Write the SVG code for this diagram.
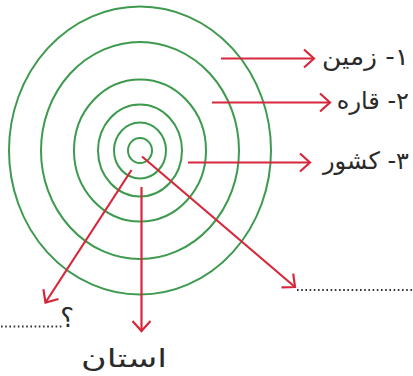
<svg xmlns="http://www.w3.org/2000/svg" width="413" height="376" viewBox="0 0 413 376">
<style>
.ring{fill:none;stroke:#3d9a4e;stroke-width:2}
.arr{fill:none;stroke:#d7283b;stroke-width:2.2;marker-end:url(#ah)}
.lbl{font-family:"DejaVu Sans",sans-serif;font-size:24px;fill:#2a2a2a;direction:rtl}
.dots{fill:none;stroke:#333;stroke-width:1.8;stroke-dasharray:1.6 2.6}
</style>
<defs>
<marker id="ah" markerUnits="userSpaceOnUse" markerWidth="24" markerHeight="24" viewBox="-12 -12 24 24" refX="0" refY="0" orient="auto">
<path d="M-10,-9 L0,0 L-10,9" fill="none" stroke="#d7283b" stroke-width="2.2"/>
</marker>
</defs>
<rect width="413" height="376" fill="#fff"/>
<g id="rings">
<ellipse class="ring" cx="140" cy="150.5" rx="12" ry="12.5"/>
<ellipse class="ring" cx="140" cy="150.5" rx="26" ry="28"/>
<ellipse class="ring" cx="140" cy="150.5" rx="42" ry="46"/>
<ellipse class="ring" cx="140" cy="150.5" rx="66" ry="71"/>
<ellipse class="ring" cx="140" cy="150.5" rx="99" ry="108.5"/>
<ellipse class="ring" cx="140" cy="150.5" rx="131" ry="144"/>
</g>
<g id="connectors">
<line class="arr" x1="221" y1="58.5" x2="314" y2="58.5"/>
<line class="arr" x1="212" y1="102.5" x2="330" y2="102.5"/>
<line class="arr" x1="188" y1="162.5" x2="310" y2="162.5"/>
<line class="arr" x1="131.5" y1="170" x2="45.5" y2="302.5"/>
<line class="arr" x1="141.5" y1="187" x2="141.5" y2="331"/>
<line class="arr" x1="142" y1="156.5" x2="295" y2="287"/>
</g>
<g id="label-zamin"><text class="lbl" transform="translate(409,65) scale(1.1,1)">۱- زمین</text></g>
<g id="label-qare"><text class="lbl" transform="translate(409,109)">۲- قاره</text></g>
<g id="label-keshvar"><text class="lbl" transform="translate(409,169)">۳- کشور</text></g>
<g id="label-ostan"><text class="lbl" transform="translate(167,367) scale(1.4,1)" style="font-size:25px">استان</text></g>
<g id="blank-left">
<line class="dots" x1="1" y1="326.5" x2="63" y2="326.5"/>
<text class="lbl" transform="translate(74,327)" style="font-size:26px">؟</text>
</g>
<g id="blank-right">
<line class="dots" x1="297" y1="290" x2="413" y2="290"/>
</g>
</svg>
